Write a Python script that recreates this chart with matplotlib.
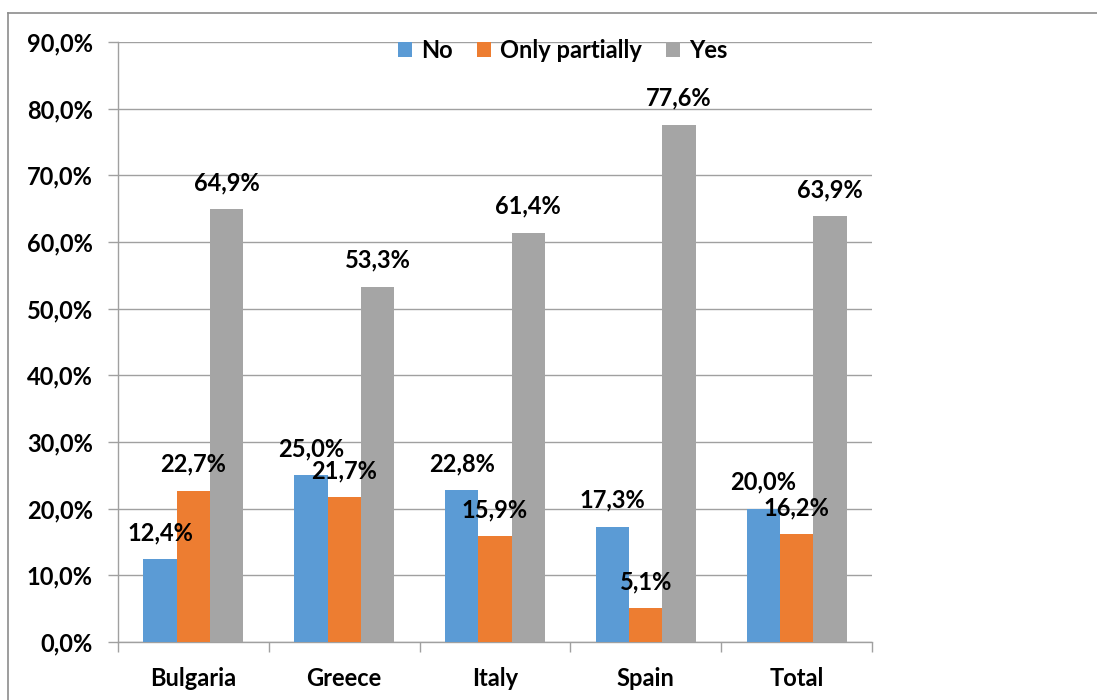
import numpy as np
import matplotlib
matplotlib.use("Agg")
import matplotlib.pyplot as plt
from matplotlib.lines import Line2D

categories = ["Bulgaria", "Greece", "Italy", "Spain", "Total"]
no_vals = [12.4, 25.0, 22.8, 17.3, 20.0]
partial_vals = [22.7, 21.7, 15.9, 5.1, 16.2]
yes_vals = [64.9, 53.3, 61.4, 77.6, 63.9]
series_names = ["No", "Only partially", "Yes"]
colors = ["#5B9BD5", "#ED7D31", "#A5A5A5"]

plt.rcParams['font.family'] = ['Lato', 'DejaVu Sans']
plt.rcParams['font.weight'] = 'bold'
FS = 17

def pct(v):
    return f"{v:.1f}%".replace(".", ",")

fig = plt.figure(figsize=(10.97, 7.0), dpi=100)
ax = fig.add_axes([0.1076, 0.0829, 0.6873, 0.8571])

x = np.arange(len(categories))
w = 0.221
for i, (name, vals) in enumerate(zip(series_names, [no_vals, partial_vals, yes_vals])):
    pos = x + (i - 1) * w
    ax.bar(pos, vals, width=w, color=colors[i], label=name, zorder=3)
    for p, v in zip(pos, vals):
        ax.annotate(pct(v), (p, v), xytext=(0, 19), textcoords="offset points",
                    ha="center", va="center", fontsize=FS, fontweight="bold", zorder=4)

ax.set_xlim(-0.5, len(categories) - 0.5)
ax.set_ylim(0, 90)
ax.set_yticks(np.arange(0, 91, 10))
ax.set_yticklabels([pct(v) for v in np.arange(0, 91, 10)], fontsize=FS, fontweight="bold")
ax.set_xticks(x)
ax.set_xticklabels(categories, fontsize=FS, fontweight="bold")
ax.set_xticks(np.arange(-0.5, len(categories), 1), minor=True)
ax.tick_params(axis="x", which="major", length=0, pad=18)
ax.tick_params(axis="x", which="minor", length=7.2, color="#A0A0A0", width=1)
ax.tick_params(axis="y", length=7.2, color="#A0A0A0", width=1, pad=11)

ax.yaxis.grid(True, color="#A0A0A0", linewidth=1, zorder=0)
for s in ["top", "right"]:
    ax.spines[s].set_visible(False)
for s in ["left", "bottom"]:
    ax.spines[s].set_color("#A0A0A0")
    ax.spines[s].set_linewidth(1)

ax.legend(loc="upper center", bbox_to_anchor=(0.59, 1.04), ncol=3, frameon=False,
          handlelength=0.6, handleheight=0.6, handletextpad=0.4,
          columnspacing=1.0, prop={"weight": "bold", "size": FS})

# outer chart border (left and top edges only visible)
fig.add_artist(Line2D([8 / 1097, 8 / 1097], [0, 1 - 13 / 700], color="#8C8C8C", lw=1.2))
fig.add_artist(Line2D([8 / 1097, 1], [1 - 13 / 700, 1 - 13 / 700], color="#8C8C8C", lw=1.2))

fig.savefig("out.png", dpi=100)
